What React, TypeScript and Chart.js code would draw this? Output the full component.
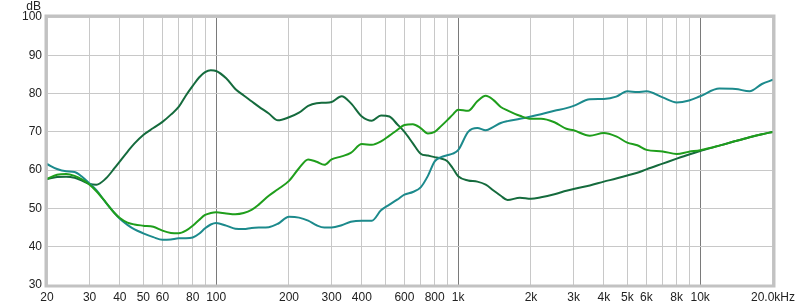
import React, { useEffect, useRef } from "react";
import { Chart, registerables } from "chart.js";

Chart.register(...registerables);

const freqs = [
  20, 22, 24, 26, 28, 30, 32, 35, 38, 40, 43, 46, 50, 55, 60, 65, 70, 75, 80, 85, 90, 95,
  100, 110, 120, 130, 140, 150, 165, 180, 200, 220, 240, 260, 280, 300, 330, 360, 400, 440,
  480, 520, 560, 600, 650, 700, 750, 800, 850, 900, 950, 1000, 1100, 1200, 1300, 1400, 1500,
  1600, 1800, 2000, 2200, 2500, 2800, 3000, 3500, 4000, 4500, 5000, 5500, 6000, 7000, 8000,
  9000, 10000, 12000, 14000, 16000, 18000, 20000,
];

const darkGreen = [
  57.7, 58.2, 58.3, 58.0, 57.2, 56.4, 56.2, 57.8, 60.5, 62.3, 64.8, 67.0, 69.2, 71.0, 72.6, 74.5, 76.5, 79.5, 82.0, 84.2, 85.6, 86.1,
  85.9, 84.0, 81.2, 79.5, 78.0, 76.6, 74.8, 73.0, 73.8, 75.0, 76.8, 77.5, 77.6, 77.8, 79.3, 77.5, 74.0, 72.9,
  74.3, 74.0, 72.0, 70.0, 67.0, 64.3, 63.8, 63.4, 63.0, 62.4, 60.5, 58.4, 57.3, 57.0, 56.2, 54.7, 53.3,
  52.2, 52.8, 52.5, 52.9, 53.7, 54.6, 55.1, 56.0, 57.0, 57.8, 58.6, 59.3, 60.2, 61.7, 63.0,
  64.1, 65.0, 66.4, 67.6, 68.6, 69.4, 70.0,
];

const teal = [
  61.6, 60.3, 59.7, 59.5, 58.2, 56.5, 54.8, 51.5, 48.8, 47.3, 45.7, 44.5, 43.5, 42.5, 41.8, 41.9, 42.2, 42.2, 42.4, 43.4, 44.8, 45.8,
  46.2, 45.5, 44.7, 44.6, 44.9, 45.0, 45.1, 46.0, 47.8, 47.6, 46.8, 45.6, 45.0, 45.0, 45.6, 46.5, 46.8, 46.8,
  49.5, 51.0, 52.3, 53.6, 54.3, 55.5, 58.5, 62.3, 63.4, 63.9, 64.3, 65.2, 70.0, 71.0, 70.4, 71.3, 72.3,
  72.8, 73.4, 74.0, 74.6, 75.5, 76.2, 76.8, 78.5, 78.6, 79.2, 80.6, 80.4, 80.6, 79.0, 77.7,
  78.2, 79.3, 81.3, 81.2, 80.6, 82.5, 83.6,
];

const brightGreen = [
  57.7, 58.8, 59.0, 58.5, 57.5, 56.2, 54.5, 51.6, 48.8, 47.5, 46.3, 45.8, 45.5, 45.2, 44.2, 43.6, 43.5, 44.2, 45.5, 47.0, 48.3, 48.8,
  49.0, 48.7, 48.5, 48.8, 49.6, 51.0, 53.3, 55.0, 57.2, 60.5, 62.8, 62.2, 61.4, 62.8, 63.6, 64.5, 66.8, 66.6,
  67.5, 69.0, 70.5, 71.8, 72.0, 71.0, 69.6, 70.0, 71.5, 73.0, 74.5, 75.8, 75.5, 78.0, 79.4, 78.3, 76.5,
  75.6, 74.2, 73.4, 73.4, 72.5, 70.8, 70.4, 69.0, 69.7, 68.8, 67.2, 66.5, 65.3, 64.9, 64.2,
  64.8, 65.2, 66.4, 67.6, 68.6, 69.4, 70.0,
];

const xGridValues = [
  20, 30, 40, 50, 60, 70, 80, 90, 100, 200, 300, 400, 500, 600, 700, 800, 900, 1000,
  2000, 3000, 4000, 5000, 6000, 7000, 8000, 9000, 10000, 20000,
];
const xTickValues = [20, 30, 40, 50, 60, 80, 100, 200, 300, 400, 600, 800, 1000, 2000, 3000, 4000, 5000, 6000, 8000, 10000, 20000];
const xTickLabels = ["20", "30", "40", "50", "60", "80", "100", "200", "300", "400", "600", "800", "1k", "2k", "3k", "4k", "5k", "6k", "8k", "10k", "20.0kHz"];
const majorLines = [100, 1000, 10000];
const yUnit = "dB";

const FONT = "'Liberation Sans', Arial, sans-serif";

const framePlugin = {
  id: "frame",
  afterDraw(chart: any) {
    const { ctx, chartArea } = chart;
    ctx.save();
    ctx.strokeStyle = "#c2c2c2";
    ctx.lineWidth = 3;
    ctx.strokeRect(chartArea.left - 1, chartArea.top - 1, chartArea.right - chartArea.left + 2, chartArea.bottom - chartArea.top + 2);
    ctx.fillStyle = "#222";
    ctx.font = "12px " + FONT;
    ctx.textAlign = "right";
    ctx.textBaseline = "alphabetic";
    ctx.fillText(yUnit, 41, 10);
    ctx.restore();
  },
};

export default function App() {
  const ref = useRef<HTMLCanvasElement>(null);
  useEffect(() => {
    const mk = (vals: number[]) => freqs.map((f, i) => ({ x: f, y: vals[i] }));
    const chart = new Chart(ref.current as HTMLCanvasElement, {
      type: "line",
      data: {
        datasets: [
          { data: mk(brightGreen), borderColor: "#1f9e1c", borderWidth: 2, pointRadius: 0, tension: 0.4, cubicInterpolationMode: "monotone" },
          { data: mk(teal), borderColor: "#1c8a8c", borderWidth: 2, pointRadius: 0, tension: 0.4, cubicInterpolationMode: "monotone" },
          { data: mk(darkGreen), borderColor: "#156b3d", borderWidth: 2, pointRadius: 0, tension: 0.4, cubicInterpolationMode: "monotone" },
        ],
      } as any,
      options: {
        animation: false,
        responsive: false,
        layout: { padding: { top: 17, right: 23, left: 0, bottom: 0 } },
        plugins: { legend: { display: false }, tooltip: { enabled: false } },
        scales: {
          x: {
            type: "logarithmic",
            min: 20,
            max: 20000,
            afterBuildTicks: (scale: any) => {
              scale.ticks = xGridValues.map((v) => ({ value: v }));
            },
            afterFit: (scale: any) => {
              scale.height = 19;
            },
            border: { display: false },
            grid: {
              drawTicks: false,
              color: (c: any) => (majorLines.includes(c.tick && c.tick.value) ? "#7a7a7a" : "#c8c8c8"),
              lineWidth: 1,
            },
            ticks: {
              autoSkip: false,
              maxRotation: 0,
              padding: 5,
              color: "#222",
              font: { size: 12, family: FONT },
              callback: (value: any) => {
                const i = xTickValues.indexOf(Number(value));
                return i >= 0 ? xTickLabels[i] : "";
              },
            },
          },
          y: {
            type: "linear",
            min: 30,
            max: 100,
            afterFit: (scale: any) => {
              scale.width = 47;
            },
            border: { display: false },
            grid: { drawTicks: false, color: "#c8c8c8", lineWidth: 1 },
            ticks: {
              stepSize: 10,
              padding: 5,
              color: "#222",
              font: { size: 12, family: FONT },
            },
          },
        },
      } as any,
      plugins: [framePlugin],
    });
    return () => chart.destroy();
  }, []);
  return (
    <div style={{ position: "absolute", left: 0, top: 0, width: 800, height: 304, background: "#fff" }}>
      <canvas ref={ref} width={800} height={304} />
    </div>
  );
}
